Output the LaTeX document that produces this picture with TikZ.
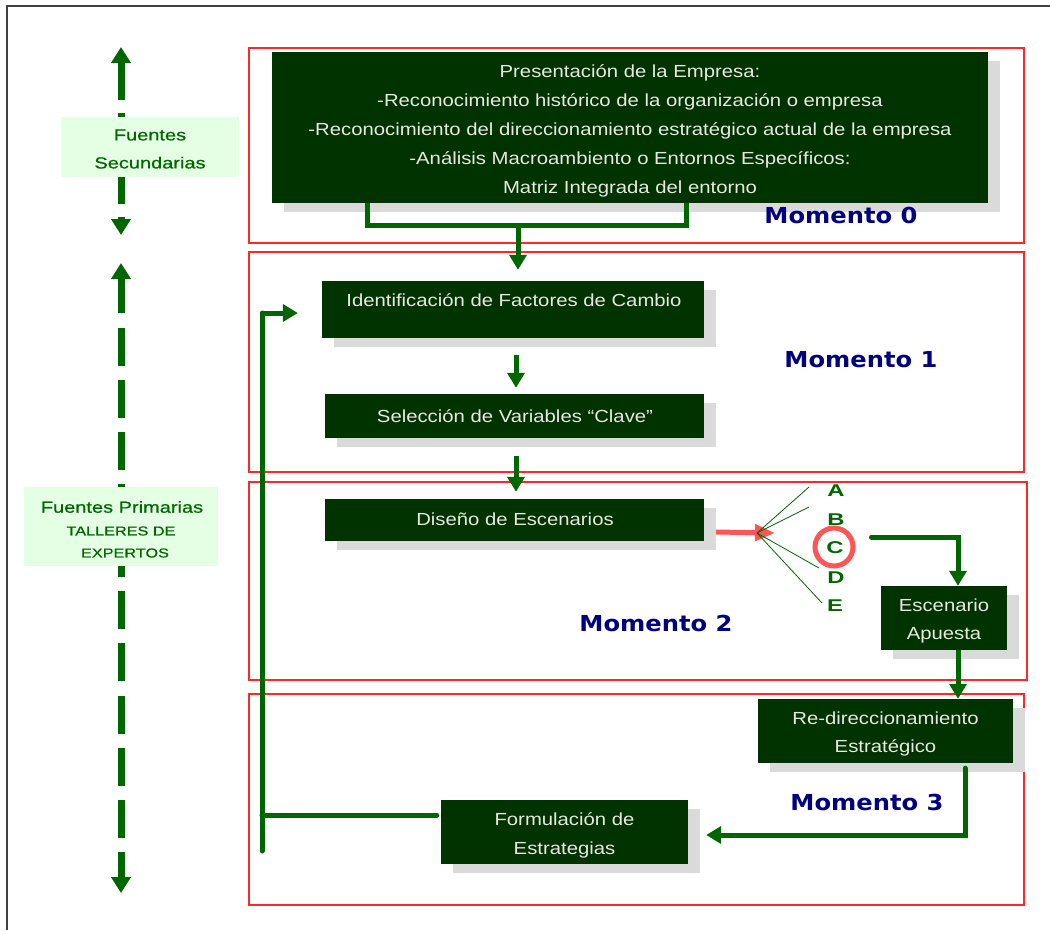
\documentclass[tikz,border=0pt]{standalone}
\usepackage{fontspec}
\usetikzlibrary{arrows.meta,shadows}
\newfontfamily\boxfont[FakeStretch=1.16]{Liberation Sans}
\newfontfamily\srcfont[FakeStretch=1.25,FakeBold=0.6]{Liberation Sans}
\newfontfamily\letfont[FakeStretch=1.4]{Liberation Sans}
\newfontfamily\momfont[FakeStretch=1.1]{DejaVu Sans}
\definecolor{boxgreen}{RGB}{0,51,0}
\definecolor{boxtext}{RGB}{232,232,225}
\definecolor{lgreen}{RGB}{0,102,0}
\definecolor{navy}{RGB}{0,0,128}
\definecolor{frame}{RGB}{255,40,40}
\definecolor{redc}{RGB}{255,85,85}
\definecolor{srcfill}{RGB}{228,255,228}
\definecolor{shadowg}{RGB}{218,218,218}
\tikzset{
  gbox/.style={rectangle, fill=boxgreen, draw=none, inner sep=0pt,
    copy shadow={shadow xshift=12pt, shadow yshift=-9pt, fill=shadowg, draw=none}},
  boxlbl/.style={text=boxtext, align=center, inner sep=0pt,
    font=\boxfont\fontsize{17.5}{29}\selectfont},
  redframe/.style={draw=frame, line width=1.1pt},
  gline/.style={draw=lgreen, line width=5pt, line cap=round},
  garrow/.style={gline, -{Triangle[width=17pt,length=15pt]}},
  dline/.style={draw=lgreen, line width=7pt},
  darrow/.style={dline, -{Triangle[width=19pt,length=16pt]}},
  momento/.style={text=navy, font=\momfont\bfseries\fontsize{22}{26}\selectfont, inner sep=0pt},
  srcbox/.style={fill=srcfill, text=lgreen, align=center, inner sep=0pt},
  letter/.style={text=lgreen, font=\letfont\bfseries\fontsize{17}{20}\selectfont, inner sep=0pt},
  fanline/.style={draw=lgreen, line width=0.8pt},
}
\begin{document}
\begin{tikzpicture}[x=1pt,y=-1pt]
\useasboundingbox (0,0) rectangle (1050,930);
% outer frame
\draw[draw=black!75, line width=1.5pt] (1050,6) -- (7,6) -- (7,930);
% red moment frames
\draw[redframe] (249,48) rectangle (1024,243);
\draw[redframe] (249,252) rectangle (1024,472);
\draw[redframe] (249,482) rectangle (1027,680);
\draw[redframe] (249,694) rectangle (1024,905);

% left dashed arrows
\draw[darrow] (121,100) -- (121,47);
\draw[dline] (121,113) -- (121,117);
\draw[dline] (121,177) -- (121,204);
\draw[darrow] (121,217) -- (121,235);
\draw[darrow] (121,313) -- (121,263);
\draw[dline, dash pattern=on 38pt off 14pt] (121,328) -- (121,487);
\draw[dline, dash pattern=on 38pt off 14.2pt] (121,539) -- (121,877);
\draw[darrow] (121,870) -- (121,893);

\node[srcbox, minimum width=178pt, minimum height=60pt] (fs) at (150,147) {};
\node[text=lgreen, align=center, inner sep=0pt, font=\srcfont\fontsize{16}{28}\selectfont]
  (fst) at (150,149) {Fuentes\\Secundarias};
\node[srcbox, minimum width=194pt, minimum height=79pt] (fp) at (121,526.5) {};
\node[text=lgreen, inner sep=0pt, font=\srcfont\fontsize{16}{20}\selectfont] (fpt1) at (122,507) {Fuentes Primarias};
\node[text=lgreen, inner sep=0pt, font=\srcfont\fontsize{13}{16}\selectfont] (fpt2) at (121,531) {TALLERES DE};
\node[text=lgreen, inner sep=0pt, font=\srcfont\fontsize{13}{16}\selectfont] (fpt3) at (125,553) {EXPERTOS};

% boxes
\node[gbox, minimum width=716pt, minimum height=151pt] (b0) at (630,127.5) {};
\node[boxlbl] (b0t) at (630,130.5)
  {Presentación de la Empresa:\\
   -Reconocimiento histórico de la organización o empresa\\
   -Reconocimiento del direccionamiento estratégico actual de la empresa\\
   -Análisis Macroambiento o Entornos Específicos:\\
   Matriz Integrada del entorno};
\node[gbox, minimum width=382pt, minimum height=57pt] (b1) at (513,309.5) {};
\node[boxlbl] (b1t) at (514,300.5) {Identificación de Factores de Cambio};
\node[gbox, minimum width=379pt, minimum height=44pt] (b2) at (514.5,416) {};
\node[boxlbl] (b2t) at (515,416.5) {Selección de Variables “Clave”};
\node[gbox, minimum width=379pt, minimum height=42pt] (b3) at (514.5,520) {};
\node[boxlbl] (b3t) at (515,519.5) {Diseño de Escenarios};
\node[gbox, minimum width=126pt, minimum height=64pt] (b4) at (944,618) {};
\node[boxlbl, font=\boxfont\fontsize{17.5}{28}\selectfont] (b4t) at (944,620.5) {Escenario\\Apuesta};
\node[gbox, minimum width=255pt, minimum height=64pt] (b5) at (885.5,731) {};
\node[boxlbl, font=\boxfont\fontsize{17.5}{28}\selectfont] (b5t) at (885.5,733.5) {Re-direccionamiento\\Estratégico};
\node[gbox, minimum width=247pt, minimum height=64pt] (b6) at (564.5,832) {};
\node[boxlbl] (b6t) at (564.5,835) {Formulación de\\Estrategias};

% momento labels
\node[momento] (m0) at (841,215) {Momento 0};
\node[momento] (m1) at (861,360) {Momento 1};
\node[momento] (m2) at (656,623) {Momento 2};
\node[momento] (m3) at (867,802) {Momento 3};

% scenario letters
\node[letter] (lA) at (836,491) {A};
\node[letter] (lB) at (836,520) {B};
\node[letter] (lC) at (835,548) {C};
\node[letter] (lD) at (836,578) {D};
\node[letter] (lE) at (835,606) {E};
\node[circle, draw=redc, line width=5pt, minimum size=38pt, inner sep=0pt] (cc) at (834,547) {};

% connectors
\coordinate (m0a) at (367,225);
\coordinate (m0b) at (686,225);
\coordinate (m0c) at (518,225);
\draw[gline, line cap=butt] (m0a |- b0.south) -- (m0a) -- (m0b) -- (m0b |- b0.south);
\draw[garrow, line cap=butt, shorten >=11pt] (m0c) -- (m0c |- b1.north);
\path (b1.south) ++(3,0) coordinate (p12);
\draw[garrow, line cap=butt, shorten <=17pt, shorten >=6pt] (p12) -- (p12 |- b2.north);
\path (b2.south) ++(1.5,0) coordinate (p23);
\draw[garrow, line cap=butt, shorten <=18pt, shorten >=7pt] (p23) -- (p23 |- b3.north);

\coordinate (fan) at (757,533);
\draw[draw=redc, line width=5pt, -{Triangle[width=16pt,length=20pt]}] ([shift={(12,12)}]b3.east) -- ([xshift=18]fan);
\draw[fanline] (fan) -- (809,487);
\draw[fanline] (fan) -- (809,507);
\draw[fanline] (fan) -- (819,568);
\draw[fanline] (fan) -- (822,603);

\draw[garrow] ([shift={(16,-10)}]cc.east) -| ([xshift=14]b4.north);
\path ([xshift=14]b4.south) coordinate (p45);
\draw[garrow, line cap=butt] (p45) -- (p45 |- b5.north);
\draw[garrow] ([shift={(79.5,5)}]b5.south) |- ([shift={(18,3)}]b6.east);

\coordinate (lp) at (262,851);
\coordinate (lt) at (262,313);
\coordinate (lm) at (262,815);
\draw[gline] ([shift={(-4,-17)}]b6.west) -- (lm);
\draw[gline] (lp) -- (lt);
\draw[garrow, line cap=butt] (lt) -- ([shift={(-24,3.5)}]b1.west);
\end{tikzpicture}
\end{document}
